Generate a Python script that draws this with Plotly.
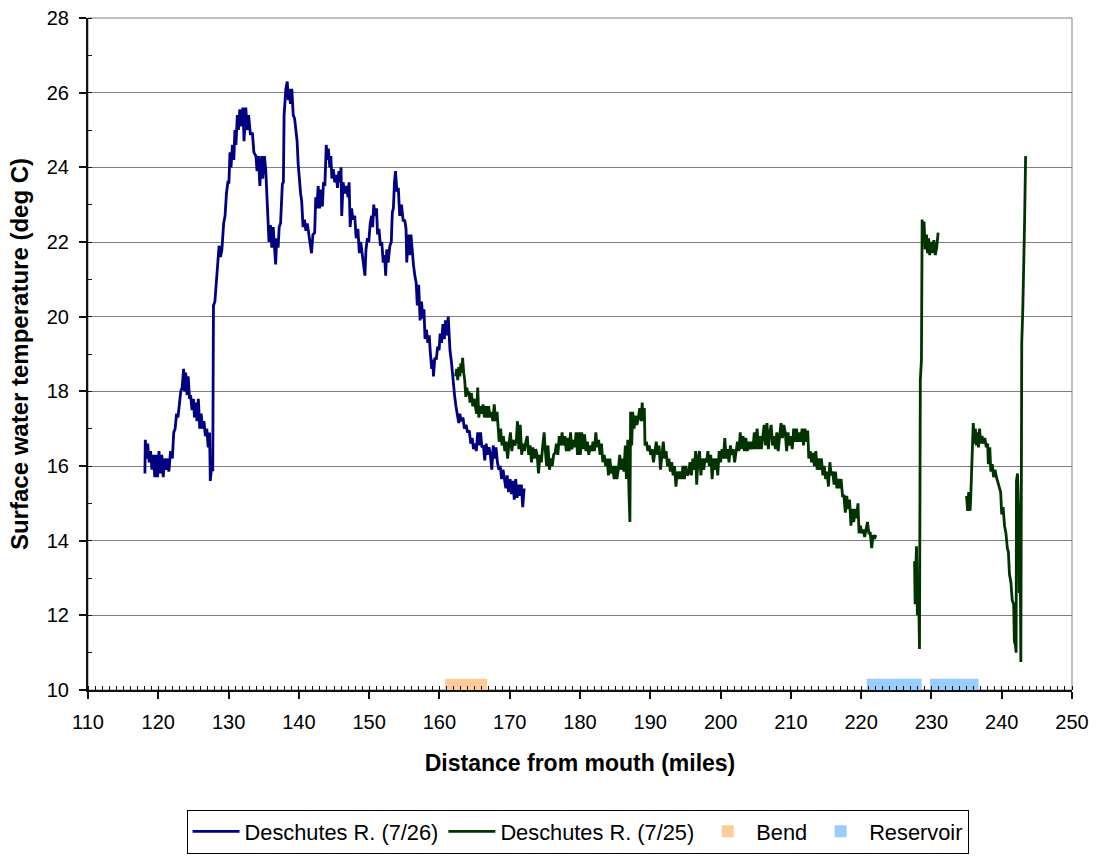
import plotly.graph_objects as go

# Deschutes River surface water temperature profile (deg C) vs distance from mouth (miles)

# 7/26 survey
blue_mile = [
    118.10, 118.15, 118.35, 118.50, 118.70, 118.90, 119.10, 119.30, 119.50, 119.70,
    119.90, 120.10, 120.30, 120.50, 120.70, 120.90, 121.10, 121.30, 121.50, 121.75,
    122.00, 122.20, 122.40, 122.60, 122.80, 123.00, 123.20, 123.40, 123.60, 123.75,
    123.90, 124.10, 124.25, 124.45, 124.60, 124.80, 125.00, 125.15, 125.35, 125.50,
    125.70, 125.90, 126.10, 126.30, 126.50, 126.70, 126.90, 127.10, 127.30, 127.40,
    127.55, 127.75, 127.85, 128.05, 128.25, 128.45, 128.65, 128.85, 129.05, 129.30,
    129.50, 129.70, 129.90, 130.05, 130.20, 130.35, 130.55, 130.75, 130.90, 131.05,
    131.25, 131.40, 131.60, 131.80, 132.05, 132.20, 132.45, 132.65, 132.85, 133.10,
    133.40, 133.60, 133.90, 134.05, 134.25, 134.45, 134.70, 134.85, 135.10, 135.30,
    135.50, 135.75, 135.95, 136.15, 136.35, 136.55, 136.70, 136.85, 137.05, 137.20,
    137.40, 137.65, 137.80, 137.90, 138.00, 138.15, 138.35, 138.50, 138.65, 138.80,
    139.00, 139.20, 139.40, 139.60, 139.75, 139.90, 140.10, 140.25, 140.40, 140.60,
    140.80, 141.00, 141.20, 141.40, 141.60, 141.80, 142.00, 142.25, 142.40, 142.55,
    142.75, 142.95, 143.15, 143.35, 143.50, 143.70, 143.90, 144.05, 144.20, 144.40,
    144.55, 144.70, 144.90, 145.10, 145.30, 145.50, 145.70, 145.85, 146.00, 146.10,
    146.30, 146.50, 146.75, 147.00, 147.15, 147.30, 147.50, 147.70, 147.95, 148.15,
    148.40, 148.60, 148.80, 149.00, 149.20, 149.40, 149.55, 149.75, 149.95, 150.15,
    150.35, 150.50, 150.65, 150.85, 151.05, 151.20, 151.40, 151.60, 151.80, 152.00,
    152.20, 152.35, 152.50, 152.70, 152.95, 153.15, 153.30, 153.45, 153.60, 153.75,
    153.95, 154.15, 154.35, 154.60, 154.85, 155.05, 155.25, 155.35, 155.55, 155.75,
    155.95, 156.15, 156.30, 156.50, 156.70, 156.85, 157.05, 157.25, 157.45, 157.65,
    157.80, 157.95, 158.15, 158.35, 158.55, 158.70, 158.90, 159.05, 159.15, 159.35,
    159.55, 159.75, 159.95, 160.10, 160.30, 160.50, 160.70, 160.85, 161.05, 161.25,
    161.35, 161.50, 161.70, 161.95, 162.15, 162.35, 162.55, 162.75, 162.90, 163.10,
    163.35, 163.55, 163.80, 164.00, 164.25, 164.45, 164.65, 164.85, 165.05, 165.25,
    165.45, 165.65, 165.85, 166.05, 166.25, 166.45, 166.65, 166.85, 167.05, 167.25,
    167.45, 167.65, 167.85, 168.05, 168.25, 168.45, 168.65, 168.85, 169.05, 169.25,
    169.45, 169.65, 169.85, 170.05, 170.25, 170.45, 170.65, 170.85, 171.05, 171.25,
    171.45, 171.65, 171.85, 172.05,
]
blue_temp = [
    15.80, 16.70, 16.20, 16.60, 16.10, 16.40, 15.90, 16.30, 15.70, 16.30,
    15.70, 16.40, 15.80, 16.30, 15.70, 16.20, 15.90, 16.20, 15.85, 16.40,
    16.20, 16.90, 17.00, 17.40, 17.30, 17.70, 18.00, 18.10, 18.60, 18.00,
    18.50, 17.90, 18.40, 17.80, 17.90, 17.50, 17.80, 17.30, 17.70, 17.20,
    17.80, 17.00, 17.40, 17.00, 17.20, 16.80, 17.00, 16.50, 16.90, 15.60,
    15.90, 15.90, 20.30, 20.40, 21.00, 21.50, 21.90, 21.60, 21.80, 22.50,
    22.70, 23.30, 23.60, 23.60, 24.40, 24.00, 24.60, 24.20, 25.00, 24.60,
    25.40, 25.00, 25.55, 25.10, 25.60, 24.70, 25.60, 25.00, 25.40, 24.90,
    24.90, 24.40, 24.30, 23.90, 24.30, 23.50, 24.30, 23.70, 24.30, 23.90,
    23.00, 22.00, 22.45, 21.85, 22.40, 21.75, 21.40, 22.10, 21.85, 22.40,
    22.50, 23.55, 23.60, 25.40, 25.70, 26.10, 26.30, 25.80, 26.10, 25.70,
    26.10, 25.40, 25.30, 25.00, 24.70, 24.10, 23.50, 23.30, 23.10, 22.40,
    22.60, 22.30, 22.50, 22.20, 21.90, 21.70, 22.20, 22.25, 23.20, 22.90,
    23.50, 22.90, 23.40, 22.95, 23.60, 23.50, 24.60, 24.20, 24.50, 24.00,
    24.30, 23.70, 23.95, 23.60, 23.80, 23.45, 23.90, 23.60, 24.00, 22.70,
    23.60, 23.30, 23.50, 23.20, 23.60, 22.40, 22.90, 22.60, 22.70, 22.10,
    22.35, 21.70, 22.00, 21.70, 21.50, 21.10, 21.80, 22.10, 22.00, 22.50,
    22.70, 22.40, 23.00, 22.70, 22.90, 22.20, 22.35, 21.90, 22.00, 21.45,
    21.65, 21.10, 21.80, 21.45, 21.90, 22.00, 22.80, 22.90, 23.60, 23.90,
    23.35, 23.45, 22.70, 23.00, 22.55, 22.60, 22.35, 21.45, 22.20, 21.65,
    22.20, 21.60, 21.40, 21.10, 20.90, 20.30, 20.85, 19.90, 20.40, 19.95,
    20.20, 19.40, 19.65, 19.30, 19.50, 19.05, 18.60, 18.85, 18.40, 18.90,
    18.85, 19.20, 19.10, 19.55, 19.30, 19.80, 19.40, 19.90, 19.50, 20.00,
    19.50, 19.10, 18.80, 18.20, 17.90, 17.60, 17.40, 17.15, 17.40, 17.20,
    17.30, 17.00, 17.10, 16.90, 16.95, 16.60, 16.75, 16.45, 16.60, 16.40,
    16.90, 16.55, 16.90, 16.50, 16.55, 16.15, 16.60, 16.30, 16.50, 16.30,
    15.90, 16.55, 16.20, 16.50, 16.10, 15.90, 16.00, 15.65, 15.90, 15.70,
    15.40, 15.75, 15.30, 15.65, 15.25, 15.60, 15.10, 15.65, 15.15, 15.50,
    15.20, 15.50, 14.90, 15.40,
]

# 7/25 survey (None marks stretches without readings)
green_mile = [
    162.30, 162.45, 162.60, 162.75, 162.90, 163.05, 163.20, 163.30, 163.45, 163.60,
    163.75, 163.90, 164.05, 164.20, 164.35, 164.55, 164.75, 164.95, 165.10, 165.30,
    165.45, 165.60, 165.80, 166.00, 166.20, 166.40, 166.60, 166.80, 167.00, 167.20,
    167.40, 167.60, 167.80, 168.00, 168.20, 168.35, 168.50, 168.70, 168.90, 169.10,
    169.30, 169.50, 169.70, 169.90, 170.10, 170.30, 170.50, 170.75, 170.95, 171.10,
    171.30, 171.50, 171.70, 171.90, 172.10, 172.30, 172.50, 172.70, 172.90, 173.10,
    173.30, 173.50, 173.70, 173.90, 174.10, 174.30, 174.50, 174.70, 174.90, 175.05,
    175.25, 175.45, 175.65, 175.85, 176.05, 176.25, 176.45, 176.65, 176.85, 177.05,
    177.25, 177.45, 177.65, 177.85, 178.05, 178.25, 178.45, 178.65, 178.85, 179.05,
    179.25, 179.45, 179.65, 179.85, 180.05, 180.25, 180.45, 180.65, 180.85, 181.05,
    181.25, 181.45, 181.65, 181.85, 182.05, 182.25, 182.45, 182.65, 182.85, 183.05,
    183.25, 183.45, 183.65, 183.85, 184.05, 184.25, 184.45, 184.65, 184.85, 185.05,
    185.25, 185.45, 185.65, 185.85, 186.05, 186.25, 186.45, 186.60, 186.80, 186.95,
    187.10, 187.20, 187.35, 187.50, 187.70, 187.90, 188.10, 188.30, 188.50, 188.70,
    188.85, 189.00, 189.15, 189.25, 189.45, 189.65, 189.85, 190.05, 190.25, 190.45,
    190.65, 190.85, 191.05, 191.25, 191.45, 191.65, 191.85, 192.05, 192.25, 192.45,
    192.65, 192.85, 193.05, 193.25, 193.45, 193.65, 193.85, 194.05, 194.25, 194.45,
    194.65, 194.85, 195.05, 195.25, 195.45, 195.65, 195.85, 196.05, 196.25, 196.45,
    196.60, 196.80, 197.00, 197.20, 197.40, 197.60, 197.80, 198.00, 198.20, 198.40,
    198.60, 198.80, 199.00, 199.20, 199.40, 199.60, 199.80, 200.00, 200.20, 200.40,
    200.60, 200.80, 201.00, 201.20, 201.40, 201.60, 201.80, 202.00, 202.20, 202.40,
    202.60, 202.80, 203.00, 203.20, 203.40, 203.60, 203.80, 204.00, 204.20, 204.40,
    204.60, 204.80, 205.00, 205.20, 205.40, 205.60, 205.80, 206.00, 206.20, 206.40,
    206.60, 206.80, 207.00, 207.20, 207.40, 207.60, 207.80, 208.00, 208.20, 208.40,
    208.60, 208.80, 209.00, 209.20, 209.40, 209.60, 209.80, 210.00, 210.20, 210.40,
    210.60, 210.80, 211.00, 211.20, 211.40, 211.60, 211.80, 212.00, 212.20, 212.40,
    212.55, 212.75, 212.95, 213.15, 213.35, 213.55, 213.75, 213.95, 214.15, 214.35,
    214.55, 214.75, 214.95, 215.15, 215.35, 215.55, 215.75, 215.95, 216.15, 216.35,
    216.55, 216.75, 216.95, 217.15, 217.35, 217.55, 217.75, 217.95, 218.15, 218.35,
    218.55, 218.75, 218.95, 219.15, 219.35, 219.55, 219.70, 219.90, 220.10, 220.30,
    220.50, 220.70, 220.90, 221.10, 221.30, 221.50, 221.70, 221.90, 222.10,
    None,
    227.60, 227.68, 227.78, 227.88, 228.00, 228.15, 228.30, 228.42, 228.58, 228.68,
    228.80, 228.95, 229.10, 229.30, 229.45, 229.60, 229.75, 229.95, 230.15, 230.35,
    230.55, 230.75, 230.95,
    None,
    235.00, 235.15, 235.30, 235.50, 235.60, 235.80, 235.95, 236.10, 236.25, 236.40,
    236.55, 236.70, 236.85, 237.00, 237.20, 237.40, 237.60, 237.80, 238.00, 238.10,
    238.30, 238.45, 238.65, 238.85, 239.05, 239.25, 239.45, 239.65, 239.85, 240.00,
    240.20, 240.40, 240.60, 240.80, 240.95, 241.10, 241.30, 241.50, 241.70, 241.80,
    241.95, 242.05, 242.10, 242.25, 242.40, 242.50, 242.60, 242.72, 242.85, 243.00,
    243.15, 243.25, 243.40,
]
green_temp = [
    18.40, 18.60, 18.30, 18.65, 18.40, 18.75, 18.50, 18.90, 18.50, 18.30,
    17.85, 18.10, 17.90, 18.00, 17.70, 17.95, 17.60, 17.80, 17.60, 17.40,
    18.10, 17.30, 17.60, 17.40, 17.65, 17.30, 17.60, 17.30, 17.60, 17.30,
    17.45, 17.20, 17.65, 17.20, 17.45, 17.00, 16.65, 17.00, 16.55, 16.80,
    16.40, 16.65, 16.20, 16.60, 16.90, 16.40, 16.70, 16.55, 16.70, 17.20,
    16.45, 17.10, 16.30, 16.60, 16.40, 16.65, 16.80, 16.30, 16.55, 16.10,
    16.50, 16.20, 16.45, 16.30, 15.80, 16.30, 16.10, 16.55, 16.90, 16.45,
    16.00, 16.55, 15.90, 16.20, 16.00, 16.30, 16.35, 16.60, 16.30, 16.80,
    16.55, 16.90, 16.55, 16.80, 16.40, 16.75, 16.40, 16.90, 16.45, 16.70,
    16.50, 16.90, 16.30, 16.90, 16.30, 16.90, 16.45, 16.85, 16.40, 16.65,
    16.30, 16.55, 16.40, 16.65, 16.40, 16.90, 16.50, 16.70, 16.30, 16.60,
    16.10, 16.30, 16.00, 16.20, 15.75, 16.20, 15.80, 16.00, 15.65, 16.00,
    15.65, 15.90, 16.30, 15.90, 16.20, 15.85, 16.55, 15.65, 16.70, 15.40,
    14.50, 17.45, 16.55, 17.45, 17.00, 17.35, 17.10, 17.30, 17.55, 17.20,
    17.70, 17.20, 17.55, 16.55, 16.65, 16.40, 16.55, 16.30, 16.45, 16.10,
    16.45, 16.65, 16.30, 16.55, 15.90, 16.20, 16.65, 16.20, 16.40, 16.00,
    16.20, 15.85, 16.10, 15.75, 16.00, 15.45, 15.85, 15.65, 15.85, 15.65,
    16.00, 15.65, 16.00, 15.75, 15.80, 16.10, 15.75, 16.20, 15.90, 16.40,
    15.50, 16.20, 16.40, 15.75, 16.20, 15.90, 16.20, 16.10, 16.40, 16.00,
    16.30, 15.65, 16.20, 15.90, 16.20, 15.75, 16.40, 16.10, 16.45, 16.20,
    16.75, 16.20, 16.45, 16.10, 16.55, 16.30, 16.45, 16.10, 16.40, 16.65,
    16.40, 16.90, 16.45, 16.80, 16.40, 16.75, 16.40, 16.65, 16.45, 16.65,
    16.45, 16.90, 16.45, 17.00, 16.45, 16.80, 16.45, 16.80, 17.10, 16.55,
    17.15, 16.45, 16.90, 17.10, 16.55, 16.80, 16.45, 16.90, 16.40, 16.80,
    17.15, 16.75, 17.10, 16.90, 16.40, 16.90, 16.55, 16.80, 16.45, 17.00,
    16.65, 17.00, 16.65, 16.90, 16.65, 17.00, 16.55, 17.00, 16.65, 16.95,
    16.20, 16.40, 16.10, 16.35, 16.00, 16.40, 15.90, 16.20, 15.90, 16.20,
    15.75, 16.00, 15.65, 15.85, 15.45, 16.10, 15.75, 15.85, 15.50, 15.85,
    15.40, 15.65, 15.40, 15.65, 15.20, 15.20, 14.75, 15.20, 14.85, 15.10,
    14.40, 14.85, 14.50, 14.85, 14.60, 15.00, 14.20, 14.40, 14.20, 14.30,
    14.10, 14.30, 14.50, 14.20, 14.20, 13.80, 14.15, 14.05, 14.15,
    None,
    13.45, 12.30, 13.30, 13.85, 12.00, 13.00, 11.10, 18.30, 18.85, 22.60,
    22.10, 22.55, 21.80, 22.20, 21.70, 22.10, 21.65, 22.00, 21.70, 22.05,
    21.65, 21.85, 22.25,
    None,
    15.20, 14.80, 15.30, 14.80, 15.20, 16.30, 17.15, 16.60, 17.00, 16.55,
    16.90, 16.50, 17.00, 16.60, 16.80, 16.60, 16.75, 16.50, 16.60, 16.05,
    16.50, 15.85, 16.05, 15.70, 15.90, 15.70, 15.55, 15.40, 15.30, 14.70,
    14.90, 14.40, 14.20, 13.80, 13.70, 13.10, 12.90, 12.40, 12.30, 11.30,
    11.20, 11.00, 15.60, 15.80, 14.80, 12.60, 14.80, 10.75, 19.30, 20.20,
    22.40, 22.50, 24.30,
]

# Reaches marked along the river (start, end miles)
bend_start = [160.8]
bend_end = [166.8]
reservoir_start = [220.8, 229.8]
reservoir_end = [228.6, 236.7]
marker_level = 10.12

x_ticks = [110, 120, 130, 140, 150, 160, 170, 180, 190, 200, 210, 220, 230, 240, 250]
y_ticks = [10, 12, 14, 16, 18, 20, 22, 24, 26, 28]

FONT = "Liberation Sans, Arial, sans-serif"

fig = go.Figure()

fig.add_trace(go.Scatter(
    x=blue_mile, y=blue_temp, mode="lines", name="Deschutes R. (7/26)",
    line=dict(color="#000080", width=2.8), hoverinfo="skip",
))
fig.add_trace(go.Scatter(
    x=green_mile, y=green_temp, mode="lines", name="Deschutes R. (7/25)",
    line=dict(color="#003300", width=2.8), connectgaps=False, hoverinfo="skip",
))
fig.add_trace(go.Bar(
    orientation="h", name="Bend",
    base=bend_start, x=[e - s for s, e in zip(bend_start, bend_end)],
    y=[marker_level] * len(bend_start), width=0.36,
    marker=dict(color="#FFCC99", line=dict(width=0)), hoverinfo="skip",
))
fig.add_trace(go.Bar(
    orientation="h", name="Reservoir",
    base=reservoir_start, x=[e - s for s, e in zip(reservoir_start, reservoir_end)],
    y=[marker_level] * len(reservoir_start), width=0.36,
    marker=dict(color="#99CCFF", line=dict(width=0)), hoverinfo="skip",
))

fig.update_layout(
    width=1096, height=857,
    margin=dict(l=88, r=24, t=18, b=167, autoexpand=False),
    paper_bgcolor="white", plot_bgcolor="white",
    barmode="overlay",
    font=dict(family=FONT, size=20, color="black"),
    showlegend=True,
    legend=dict(
        orientation="h", x=0.4975, xanchor="center", y=-0.178, yanchor="top",
        bordercolor="#000000", borderwidth=1, bgcolor="white",
        font=dict(family=FONT, size=21.8, color="black"),
        traceorder="normal", itemwidth=47,
    ),
    shapes=[dict(
        type="rect", xref="paper", yref="paper", x0=0, x1=1, y0=0, y1=1,
        line=dict(color="#808080", width=1), layer="below",
    )],
)

fig.update_xaxes(
    range=[110, 250], tickvals=x_ticks, ticktext=[str(v) for v in x_ticks],
    showgrid=False, zeroline=False, automargin=False,
    showline=True, linecolor="#111111", linewidth=2,
    ticks="outside", ticklen=7, tickwidth=1.5, tickcolor="#111111",
    ticklabelstandoff=6,
    minor=dict(dtick=1, ticks="inside", ticklen=4, tickwidth=1, tickcolor="#111111", showgrid=False),
    tickfont=dict(family=FONT, size=20, color="black"),
    title=dict(text="<b>Distance from mouth (miles)</b>", standoff=23,
               font=dict(family=FONT, size=23, color="black")),
)
fig.update_yaxes(
    range=[10, 28], tickvals=y_ticks, ticktext=[str(v) for v in y_ticks],
    showgrid=True, gridcolor="#808080", gridwidth=1, zeroline=False, automargin=False,
    showline=True, linecolor="#111111", linewidth=2,
    ticks="outside", ticklen=7, tickwidth=1.5, tickcolor="#111111",
    ticklabelstandoff=6,
    minor=dict(dtick=1, ticks="inside", ticklen=4, tickwidth=1, tickcolor="#111111", showgrid=False),
    tickfont=dict(family=FONT, size=20, color="black"),
    title=dict(text="<b>Surface water temperature (deg C)</b>", standoff=11,
               font=dict(family=FONT, size=24, color="black")),
)

fig.write_html("out.html", config={"displayModeBar": False})
